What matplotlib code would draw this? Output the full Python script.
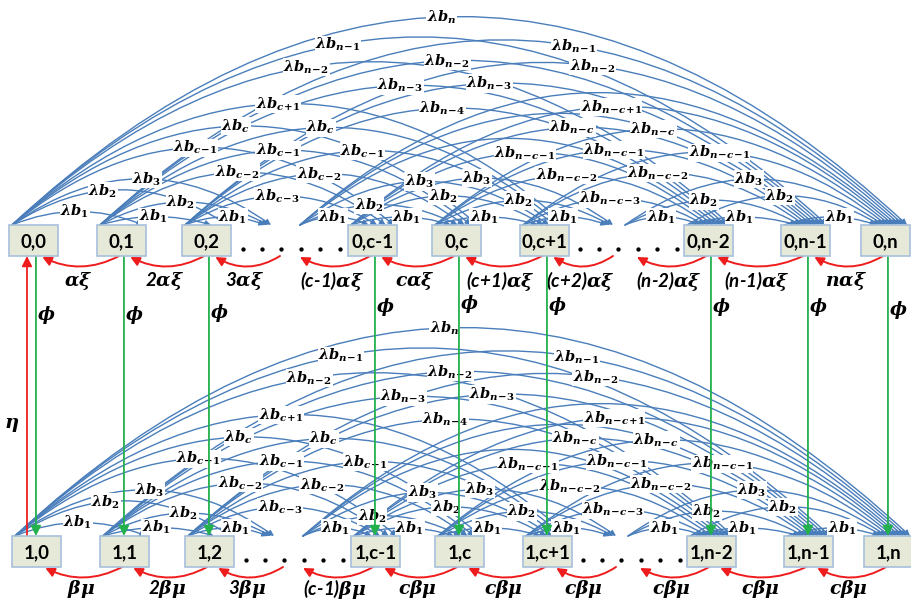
import numpy as np
import matplotlib.pyplot as plt
from matplotlib.patches import Rectangle, FancyArrowPatch
from matplotlib.path import Path

plt.rcParams['mathtext.fontset'] = 'custom'
plt.rcParams['mathtext.it'] = 'DejaVu Serif:italic:bold'
plt.rcParams['mathtext.rm'] = 'DejaVu Serif:bold'
plt.rcParams['mathtext.bf'] = 'DejaVu Serif:bold'

# second index of the states; None stands for a run of ". . ." states
cols = ['0', '1', '2', None, 'c-1', 'c', 'c+1', None, 'n-2', 'n-1', 'n']

# batch jumps (from, to, subscript of b); same set in both rows
jumps = [
    (0, 1, '1'), (0, 2, '2'), (0, 3, '3'), (0, 4, 'c-1'), (0, 5, 'c'), (0, 6, 'c+1'),
    (0, 8, 'n-2'), (0, 9, 'n-1'), (0, 10, 'n'),
    (1, 2, '1'), (1, 3, '2'), (1, 4, 'c-2'), (1, 5, 'c-1'), (1, 6, 'c'),
    (1, 8, 'n-3'), (1, 9, 'n-2'), (1, 10, 'n-1'),
    (2, 3, '1'), (2, 4, 'c-3'), (2, 5, 'c-2'), (2, 6, 'c-1'),
    (2, 8, 'n-4'), (2, 9, 'n-3'), (2, 10, 'n-2'),
    (3, 4, '1'), (3, 5, '2'), (3, 6, '3'), (3, 8, None), (3, 9, None), (3, 10, None),
    (4, 5, '1'), (4, 6, '2'), (4, 7, '3'), (4, 8, 'n-c-1'), (4, 9, 'n-c'), (4, 10, 'n-c+1'),
    (5, 6, '1'), (5, 7, '2'), (5, 8, 'n-c-2'), (5, 9, 'n-c-1'), (5, 10, 'n-c'),
    (6, 7, '1'), (6, 8, 'n-c-3'), (6, 9, 'n-c-2'), (6, 10, 'n-c-1'),
    (7, 8, '1'), (7, 9, '2'), (7, 10, '3'),
    (8, 9, '1'), (8, 10, '2'),
    (9, 10, '1'),
]

# service rates going one state left
top_rates = [r'$\alpha\xi$', r'2$\alpha\xi$', r'3$\alpha\xi$', r'(c-1)$\alpha\xi$',
             r'$c\alpha\xi$', r'(c+1)$\alpha\xi$', r'(c+2)$\alpha\xi$',
             r'(n-2)$\alpha\xi$', r'(n-1)$\alpha\xi$', r'$n\alpha\xi$']
bottom_rates = [r'$\beta\mu$', r'2$\beta\mu$', r'3$\beta\mu$', r'(c-1)$\beta\mu$',
                r'$c\beta\mu$', r'$c\beta\mu$', r'$c\beta\mu$', r'$c\beta\mu$',
                r'$c\beta\mu$', r'$c\beta\mu$']

# layout (pixels)
box_left = [9, 97, 182, None, 348, 432, 520, None, 684, 781, 861]
W, H = 49, 31
row_top = [225, 536]
row_shift = [0, 3]
rate_dy = [25, 22]
gap_in = {3: 268, 7: 610}
gap_out = {3: 300, 7: 625}
red_gap_start = {3: 280, 7: 613}
red_gap_end = {3: 300, 7: 637}
phi_y = [315, 315, 313, None, 307, 304, 306, None, 307, 307, 310]
label_t = {(0, 2): 0.42, (0, 3): 0.52, (0, 8): 0.41, (0, 9): 0.40, (1, 10): 0.59,
           (2, 3): 0.6, (2, 10): 0.57, (9, 10): 0.6, (4, 5): 0.56, (6, 10): 0.54,
           (3, 5): 0.44, (7, 9): 0.45}

BLUE = '#4a7ebb'
RED = '#ee1c1c'
GREEN = '#22b14c'

fig = plt.figure(figsize=(9.11, 6.03), dpi=100)
ax = fig.add_axes([0, 0, 1, 1])
ax.set_xlim(0, 911)
ax.set_ylim(603, 0)
ax.axis('off')


def bez(p0, c, p1, t):
    return (1 - t) ** 2 * p0 + 2 * (1 - t) * t * c + t ** 2 * p1


def curve(p0, c, p1, color, lw, ms, z):
    path = Path([p0, c, p1], [Path.MOVETO, Path.CURVE3, Path.CURVE3])
    ax.add_patch(FancyArrowPatch(path=path, arrowstyle='-|>,head_length=0.6,head_width=0.3',
                                 mutation_scale=ms, color=color, lw=lw, zorder=z))


def tight(sub):
    return sub.replace('-', r'\!-\!').replace('+', r'\!+\!')


for r, y0 in enumerate(row_top):
    dx = row_shift[r]
    # boxes and dotted runs
    for i, name in enumerate(cols):
        if name is None:
            xm = (box_left[i - 1] + W + box_left[i + 1]) / 2 + dx
            ax.plot(np.linspace(xm - 47, xm + 50, 6), [y0 + 24] * 6, 'o', color='black',
                    ms=2.1, zorder=6)
            continue
        ax.add_patch(Rectangle((box_left[i] + dx, y0), W, H, facecolor='#e7e9d8',
                               edgecolor='#a7c0dc', lw=1.2, zorder=6))
        ax.text(box_left[i] + dx + W / 2, y0 + H / 2 + 1, f'{r},{name}', ha='center',
                va='center', fontsize=13.5, fontweight='bold', family='Lato', zorder=7)

    # batch arrivals arcing over the row
    for s, d, sub in jumps:
        x0 = gap_out[s] if box_left[s] is None else box_left[s] + 3
        if box_left[d] is None:
            x1 = gap_in[d] + 3 * (d - s) - 6
        else:
            x1 = box_left[d] + 12 + (W - 15) * (d - s) / d
        x0 += dx
        x1 += dx
        span = x1 - x0
        h = max(0.255 * span - 20, 8)
        p0 = np.array([x0, y0])
        p1 = np.array([x1, y0])
        c = np.array([(x0 + x1) / 2, y0 - 2 * h])
        curve(p0, c, p1, BLUE, 1.0, 5.5, 2)
        if sub is not None:
            lx, ly = bez(p0, c, p1, label_t.get((s, d), 0.48))
            ax.text(lx, ly, r'$\lambda b_{%s}$' % tight(sub), ha='center', va='center',
                    fontsize=10.5, zorder=4,
                    bbox=dict(facecolor='white', edgecolor='none', pad=0.3))

    # departures one step to the left, under the row
    rates = top_rates if r == 0 else bottom_rates
    yb = y0 + H
    for i in range(1, len(cols)):
        xs = red_gap_start[i] if box_left[i] is None else box_left[i] + 0.45 * W
        xe = red_gap_end[i - 1] if box_left[i - 1] is None else box_left[i - 1] + 0.68 * W
        xs += dx
        xe += dx
        p0 = np.array([xs, yb])
        p1 = np.array([xe, yb + 1])
        c = np.array([(xs + xe) / 2, yb + 20])
        curve(p0, c, p1, RED, 1.4, 9, 3)
        ax.text((xs + xe) / 2 - 3, yb + rate_dy[r], rates[i - 1], ha='center', va='center',
                fontsize=13.5, fontweight='bold', style='italic', family='Lato', zorder=4)

# phase switches between the rows
for i, name in enumerate(cols):
    if name is None:
        continue
    gx = box_left[i] + 0.55 * W
    ax.add_patch(FancyArrowPatch((gx, row_top[0] + H), (gx, row_top[1]),
                                 arrowstyle='-|>,head_length=0.6,head_width=0.3',
                                 mutation_scale=10, color=GREEN, lw=1.3,
                                 shrinkA=0, shrinkB=0, zorder=5))
    ax.text(gx + 10, phi_y[i], r'$\phi$', ha='center', va='center', fontsize=13, zorder=5)

ax.add_patch(FancyArrowPatch((27, row_top[1]), (27, row_top[0] + H),
                             arrowstyle='-|>,head_length=0.6,head_width=0.3',
                             mutation_scale=10, color=RED, lw=1.3,
                             shrinkA=0, shrinkB=0, zorder=5))
ax.text(12, 425, r'$\eta$', ha='center', va='center', fontsize=14, zorder=5)

fig.savefig('out.png', dpi=100)
